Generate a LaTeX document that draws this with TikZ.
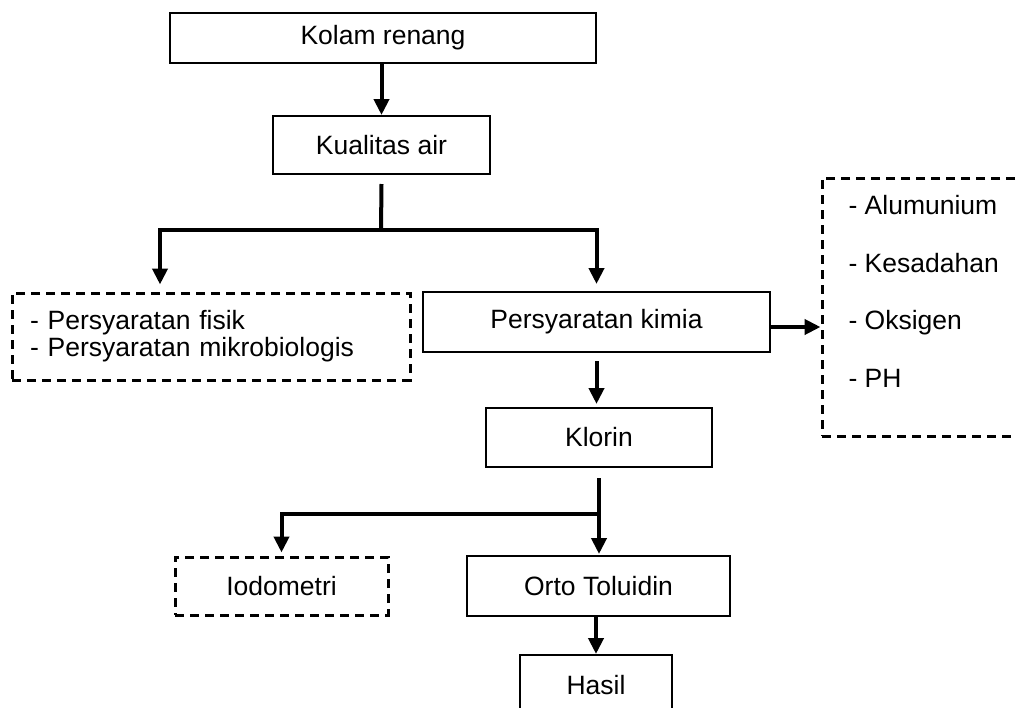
\documentclass[tikz,border=0pt]{standalone}
\usepackage{fontspec}
\setmainfont{Liberation Sans}
\usetikzlibrary{calc, arrows.meta}

\begin{document}
\begin{tikzpicture}[x=1pt,y=-1pt,
        font=\fontsize{26.5}{27}\selectfont,
        box/.style={draw,line width=2pt,inner sep=0pt},
        dbox/.style={draw,line width=3pt,dash pattern=on 9pt off 6pt,inner sep=0pt},
        line/.style={line width=4pt},
        arr/.style={line width=4pt,-{Triangle[length=16pt,width=15pt]}}]
        \useasboundingbox (0,0) rectangle (1017,707);
        \node[box,minimum width=426pt,minimum height=50pt] (kolam) at (383,38) {Kolam renang};
        \node[box,minimum width=217pt,minimum height=58pt] (kualitas) at (381.5,145) {Kualitas air};
        \node[dbox,minimum width=398pt,minimum height=87pt,text width=362pt,inner xsep=18pt,align=left] (fisik) at (211,336.5)
            {- Persyaratan fisik\\- Persyaratan mikrobiologis};
        \node[box,minimum width=347pt,minimum height=60pt] (kimia) at (596.5,322) {Persyaratan kimia};
        \node[dbox,minimum width=230pt,minimum height=258pt] (param) at (937,307) {};
        \node[anchor=west,align=left,font=\fontsize{26.5}{57.7}\selectfont] (paramtext) at (845,291.5)
            {- Alumunium\\- Kesadahan\\- Oksigen\\- PH};
        \node[box,minimum width=226pt,minimum height=59pt] (klorin) at (599,437.5) {Klorin};
        \node[dbox,minimum width=213pt,minimum height=58pt] (iodo) at (281.5,586) {Iodometri};
        \node[box,minimum width=263pt,minimum height=60pt] (orto) at (598.5,586) {Orto Toluidin};
        \node[box,minimum width=152pt,minimum height=60pt] (hasil) at (596,685) {Hasil};
        % cabang
        \coordinate (split1) at (381,230);
        \coordinate (split2) at (599,514);
        \draw[arr] (kolam.south -| kualitas.north) -- (kualitas.north);
        \draw[line] ([yshift=-9pt]kualitas.south) -- (split1);
        \draw[arr,shorten >=7pt] (split1) -| ([xshift=-51pt]fisik.north);
        \draw[arr,shorten >=7pt] (split1) -| (kimia.north);
        \draw[arr] ([yshift=-5pt]kimia.east) -- ([yshift=-5pt]kimia.east -| param.west);
        \draw[arr,shorten <=8pt,shorten >=3pt] (kimia.south) -- (kimia.south |- klorin.north);
        \draw[line] ([yshift=-10pt]klorin.south) -- (split2);
        \draw[arr,shorten >=3pt] (split2) -| (iodo.north);
        \draw[arr,shorten >=1pt] (split2) -- (split2 |- orto.north);
        \draw[arr] (orto.south -| hasil.north) -- (hasil.north);
\end{tikzpicture}
\end{document}
